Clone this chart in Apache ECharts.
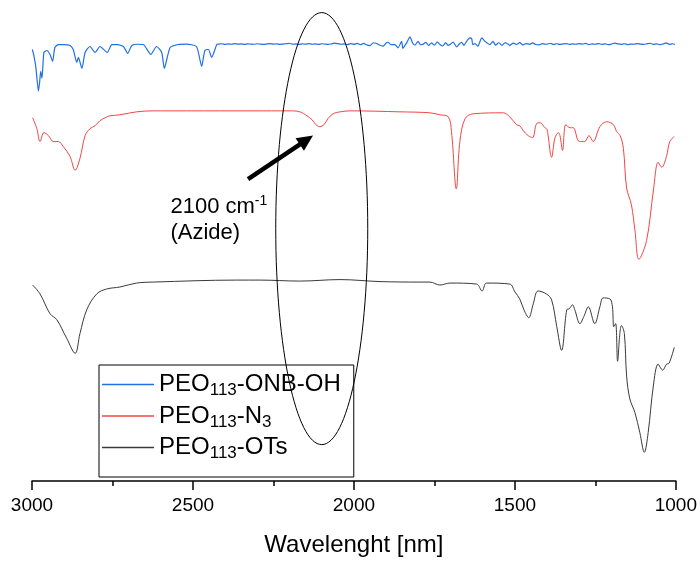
<!DOCTYPE html>
<html><head><meta charset="utf-8">
<script src="https://cdn.jsdelivr.net/npm/echarts@6/dist/echarts.min.js"></script>
<style>html,body{margin:0;padding:0;background:#fff}#c{width:700px;height:562px}</style>
</head><body><div id="c"></div>
<script>
// Series names and legend labels
const seriesNames = ['PEO113-ONB-OH', 'PEO113-N3', 'PEO113-OTs'];
const legendLabels = ['{a|PEO}{s|113}{a|-ONB-OH}', '{a|PEO}{s|113}{a|-N}{s|3}', '{a|PEO}{s|113}{a|-OTs}'];
const seriesColors = ['#1f6fe5', '#f04646', '#3a3a3a'];

// X axis ticks (wavenumber, shown inverted)
const xTicks = [3000, 2500, 2000, 1500, 1000];

// Offset intensities (a.u.), [wavenumber, value]
const blueData = [
[2999,436],[2995,431],[2988,418],[2980,394],[2976,404],[2973,414],[2969,407],[2963,433],[2954,435],[2944,431],[2936,424],[2929,438],[2918,441],
[2900,441],[2882,440],[2872,436],[2861,423],[2856,428],[2845,417],[2835,433],[2820,439],[2804,433],[2789,439],[2766,433],[2752,441],[2734,441],
[2716,439],[2703,432],[2690,440],[2672,441.3],[2654,441],[2631,431],[2613,439],[2597,433],[2589,417],[2571,438],[2546,441],[2520,441.4],[2489,439],
[2473,419],[2463,435],[2452,436],[2442,428],[2426,441],
[2420,441.5],[2410,441.8],[2400,441.2],[2390,441.6],[2380,441.3],[2370,441.9],[2360,441.4],[2350,441.6],[2340,441.2],[2330,441.7],[2320,441.5],
[2310,441.3],[2300,441.8],[2290,441.4],[2280,441.2],[2270,441.6],[2260,441.9],[2250,441.4],[2240,441.7],[2230,441.2],[2220,441.5],[2210,441.8],
[2200,442.3],[2190,441.3],[2180,441.6],[2170,441.2],[2160,441.7],[2150,441.4],[2140,441.9],[2130,441.3],[2120,441.6],[2110,441.2],[2100,441.8],
[2090,441.5],[2080,441.1],[2070,441.7],[2060,442.4],[2050,441.9],[2040,441.3],[2030,441.7],[2020,440.9],[2010,442.0],[2000,441.2],[1990,442.2],
[1980,440.8],[1970,442.1],[1960,440.6],
[1950,440],[1940,442.8],[1930,442],[1920,440.5],[1910,439.3],[1900,442.5],[1894,443.3],[1885,441],[1873,441],[1863,437.7],[1852,444.3],[1848,437],
[1840,441],[1836,442.7],[1826,448.7],[1817,442],[1810,440.5],[1801,444.3],[1793,440.8],[1786,441],[1777,443.2],[1768,440],[1759,442.7],[1750,440.3],
[1741,443.8],[1733,441],[1724,439.5],[1715,443],[1708,440.2],[1702,441],[1692,443.5],[1681,438.7],[1673,441.5],[1666,443.3],[1658,440.2],[1650,444.3],
[1640,447.7],[1634,446.7],[1631,441],[1624,442],[1615,439.3],[1603,447.7],[1593,444.3],[1578,441],[1568,444.3],[1560,440.5],[1550,442.8],[1540,440.2],
[1530,443],[1520,441],[1516,440],[1505,442.5],[1495,441],[1485,443],[1475,440.5],[1465,442],[1455,441.2],[1445,442.6],[1435,441],[1425,440.6],
[1415,442],[1405,441.3],
[1400,441.5],[1390,442.3],[1380,441.0],[1370,441.8],[1360,441.2],[1350,441.6],[1340,442.0],[1330,441.1],[1320,441.7],[1310,441.3],[1300,441.9],
[1290,441.4],[1280,442.2],[1270,441.0],[1260,441.6],[1250,441.3],[1240,441.9],[1230,441.2],[1220,441.6],[1210,440.9],[1200,441.5],[1190,442.4],
[1180,441.7],[1170,441.2],[1160,441.8],[1150,441.0],[1140,441.5],[1130,441.3],[1120,441.9],[1110,441.4],[1100,441.1],[1090,441.7],[1080,442.3],
[1070,441.2],[1060,441.6],[1050,440.9],[1040,441.5],[1030,442.6],[1020,441.2],[1010,441.8],[1003,441.0]
];

const redData = [
[2998,367],[2985,356],[2975,343],[2963,352],[2949,349],[2934,343],[2918,343],[2903,338],[2882,328],[2866,314],[2851,326],[2835,349],[2820,356],
[2804,359],[2789,364],[2773,367],[2758,369],[2727,370],[2675,373],[2624,374],[2520,374],[2314,374],[2199,374],[2168,373],[2146,369],[2130,365],
[2118,360],[2106,358],[2093,360],[2081,366],[2065,371],[2043,373],[2012,374],[1857,373],[1764,372],[1733,370],[1707,368],[1697,353],[1682,295],
[1671,343],[1655,366],[1630,371],[1536,372],[1516,368],[1495,360],[1485,359],[1474,354],[1459,349],[1445,347],[1433,361],[1422,362],[1407,357],
[1400,355],[1386,327],[1376,346],[1365,352],[1360,349],[1352,334],[1342,360],[1329,357],[1319,357],[1300,343],[1283,343],[1270,349],[1257,343],
[1236,358],[1215,363],[1194,360],[1184,353],[1173,349],[1163,336],[1153,296],[1138,279],[1127,253],[1115,224],[1091,243],[1070,293],[1055,322],
[1044,317],[1029,328],[1019,343],[1005,348]
];

const blackData = [
[2998,198],[2975,189],[2944,169],[2923,163],[2892,144],[2866,129],[2851,149],[2830,173],[2799,189],[2768,194],[2727,196],[2675,200],[2623,201],
[2364,203],[2292,203],[2168,202],[2043,203.5],[1919,201.5],[1795,201],[1764,201],[1733,198],[1702,200],[1619,199],[1602,192],[1588,200],[1516,199],
[1500,191],[1485,184],[1472,173],[1457,165],[1443,179],[1428,192],[1402,189],[1386,183],[1370,156],[1355,132],[1339,173],[1331,174],[1321,178],
[1314,173],[1298,159],[1286,166],[1272,176],[1252,159],[1236,176],[1226,185],[1205,184],[1197,176],[1193,156],[1187,159],[1181,121],[1174,149],
[1169,157],[1160,149],[1153,106],[1143,83],[1127,69],[1112,49],[1098,29],[1086,49],[1070,96],[1055,118],[1041,112],[1029,118],[1021,119],[1005,135]
];

// Annotation anchors in data coordinates
const ellipseCenter = [2100, 255];
const arrowTail = [2329, 305];
const arrowTip = [2127, 349];
const labelAnchor = [2570, 290];

const FONT = '"Liberation Sans", Arial, sans-serif';
const chart = echarts.init(document.getElementById('c'), null, {renderer: 'canvas'});

const datasets = [blueData, redData, blackData];
const smooths = [0.2, 0.35, 0.35];
const widths = [1.2, 1, 1];

chart.setOption({
  animation: false,
  backgroundColor: '#fff',
  grid: {left: 32, right: 24, top: 0, bottom: 76},
  xAxis: {
    type: 'value', inverse: true, min: 1000, max: 3000, interval: 500,
    axisLine: {show: true, lineStyle: {color: '#000', width: 1.5}},
    axisTick: {show: true, inside: false, length: 9, lineStyle: {color: '#000', width: 1.5}},
    minorTick: {show: true, splitNumber: 2, length: 5, lineStyle: {color: '#000', width: 1.5}},
    splitLine: {show: false},
    axisLabel: {fontSize: 19, color: '#000', fontFamily: FONT, margin: 15,
      formatter: v => xTicks.includes(v) ? String(v) : ''},
    name: 'Wavelenght [nm]', nameLocation: 'middle', nameGap: 52,
    nameTextStyle: {fontSize: 24, color: '#000', fontFamily: FONT}
  },
  yAxis: {type: 'value', min: 0, max: 486, show: false, splitLine: {show: false}},
  legend: {
    orient: 'vertical', left: 99, top: 365,
    icon: 'rect', itemWidth: 52, itemHeight: 1.5, itemGap: 2.5,
    borderColor: '#000', borderWidth: 1, padding: [5, 13, 15, 3],
    data: seriesNames,
    formatter: name => legendLabels[seriesNames.indexOf(name)],
    textStyle: {
      color: '#000', fontFamily: FONT,
      rich: {
        a: {fontSize: 24, lineHeight: 24, fontFamily: FONT, color: '#000'},
        s: {fontSize: 17, lineHeight: 10, padding: [12, 0, 0, 0], fontFamily: FONT, color: '#000'}
      }
    }
  },
  series: datasets.map((d, i) => ({
    name: seriesNames[i], type: 'line', data: d, symbol: 'none', showSymbol: false,
    smooth: smooths[i], lineStyle: {color: seriesColors[i], width: widths[i]},
    itemStyle: {color: seriesColors[i]}
  }))
});

function addAnnotations() {
  const c = chart.convertToPixel({gridIndex: 0}, ellipseCenter);
  const s = chart.convertToPixel({gridIndex: 0}, arrowTail);
  const t = chart.convertToPixel({gridIndex: 0}, arrowTip);
  const l = chart.convertToPixel({gridIndex: 0}, labelAnchor);
  const dx = t[0] - s[0], dy = t[1] - s[1];
  const len = Math.hypot(dx, dy);
  const ux = dx / len, uy = dy / len, nx = -uy, ny = ux;
  const L = 16, W = 7.5;
  const bx = t[0] - ux * L, by = t[1] - uy * L;
  chart.setOption({
    graphic: [
      {type: 'ellipse', shape: {cx: c[0], cy: c[1], rx: 46, ry: 216},
        style: {fill: 'none', stroke: '#000', lineWidth: 1}, z: 100},
      {type: 'line', shape: {x1: s[0], y1: s[1], x2: bx + ux * 2, y2: by + uy * 2},
        style: {stroke: '#000', lineWidth: 4.5}, z: 100},
      {type: 'polygon', shape: {points: [[t[0], t[1]], [bx + nx * W, by + ny * W], [bx - nx * W, by - ny * W]]},
        style: {fill: '#000'}, z: 100},
      {type: 'text', x: l[0], y: l[1], z: 100,
        style: {
          text: '{a|2100 cm}{p|-1}\n{a|(Azide)}',
          fill: '#000', font: '22px ' + FONT,
          rich: {
            a: {fontSize: 22, lineHeight: 26, fontFamily: FONT, fill: '#000'},
            p: {fontSize: 14, lineHeight: 14, padding: [0, 0, 11, 0], fontFamily: FONT, fill: '#000'}
          }
        }}
    ]
  });
}
addAnnotations();
</script>
</body></html>
